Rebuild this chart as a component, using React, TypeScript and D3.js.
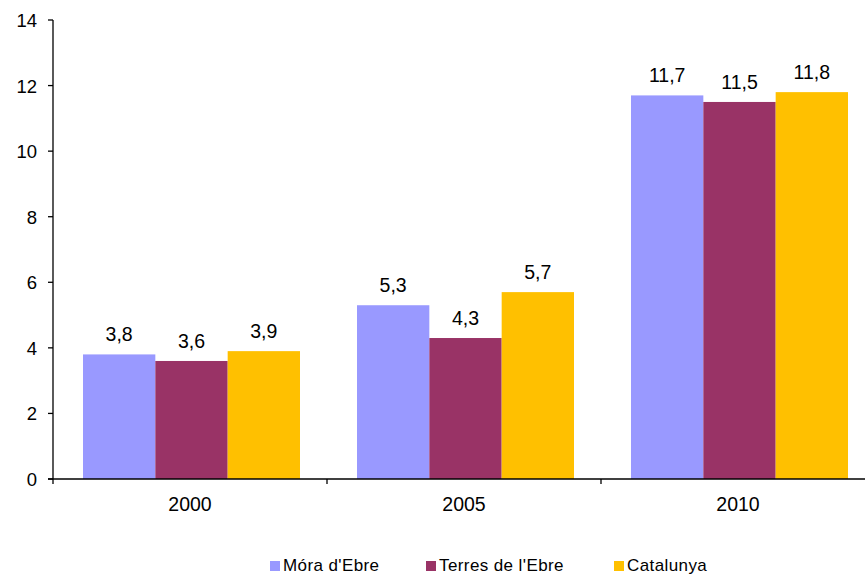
import React from "react";
import * as d3 from "d3";

const categories = ["2000", "2005", "2010"];
const seriesNames = ["Móra d'Ebre", "Terres de l'Ebre", "Catalunya"];
const moraValues = [3.8, 5.3, 11.7];
const terresValues = [3.6, 4.3, 11.5];
const catalunyaValues = [3.9, 5.7, 11.8];
const yTicks = [0, 2, 4, 6, 8, 10, 12, 14];
const colors = ["#9999FF", "#993366", "#FFC000"];

const W = 865;
const H = 575;
const left = 53;
const top = 20;
const bottom = 479;
const catW = 274;

export default function App() {
  const series = [moraValues, terresValues, catalunyaValues];
  const y = d3.scaleLinear().domain([0, 14]).range([bottom, top]);
  const x0 = d3
    .scaleBand<string>()
    .domain(categories)
    .range([left, left + catW * categories.length])
    .padding(0);
  const x1 = d3
    .scaleBand<number>()
    .domain([0, 1, 2])
    .range([30, catW - 27])
    .padding(0);
  const font = "'Liberation Sans', Arial, sans-serif";
  const fmt = (v: number) => v.toFixed(1).replace(".", ",");

  return (
    <svg
      width={W}
      height={H}
      style={{ position: "absolute", left: 0, top: 0, background: "#fff" }}
      fontFamily={font}
    >
      {categories.map((c, ci) =>
        series.map((vals, si) => (
          <rect
            key={c + si}
            x={x0(c)! + x1(si)!}
            y={y(vals[ci])}
            width={x1.bandwidth()}
            height={bottom - y(vals[ci])}
            fill={colors[si]}
          />
        ))
      )}
      {categories.map((c, ci) =>
        series.map((vals, si) => (
          <text
            key={"l" + c + si}
            x={x0(c)! + x1(si)! + x1.bandwidth() / 2}
            y={y(vals[ci]) - 13}
            textAnchor="middle"
            fontSize={19.5}
            fill="#000"
          >
            {fmt(vals[ci])}
          </text>
        ))
      )}
      {/* y axis */}
      <line x1={left} x2={left} y1={top} y2={bottom} stroke="#000" strokeWidth={1.3} />
      {yTicks.map((t) => (
        <g key={t}>
          <line x1={left - 5} x2={left} y1={y(t)} y2={y(t)} stroke="#000" strokeWidth={1.3} />
          <text x={37} y={y(t) + 7} textAnchor="end" fontSize={18.5} fill="#000">
            {t}
          </text>
        </g>
      ))}
      {/* x axis */}
      <line x1={left - 5} x2={W} y1={bottom} y2={bottom} stroke="#000" strokeWidth={1.3} />
      {categories.map((c, i) => (
        <line
          key={"t" + c}
          x1={left + catW * i}
          x2={left + catW * i}
          y1={bottom}
          y2={bottom + 5}
          stroke="#000"
          strokeWidth={1.3}
        />
      ))}
      {categories.map((c) => (
        <text
          key={"x" + c}
          x={x0(c)! + catW / 2}
          y={511}
          textAnchor="middle"
          fontSize={19.5}
          fill="#000"
        >
          {c}
        </text>
      ))}
      {/* legend */}
      {seriesNames.map((n, i) => {
        const lx = [270, 426, 614][i];
        return (
          <g key={n}>
            <rect x={lx} y={561} width={10} height={10} fill={colors[i]} />
            <text x={lx + 13} y={571} fontSize={17} letterSpacing={0.4} fill="#000">
              {n}
            </text>
          </g>
        );
      })}
    </svg>
  );
}
